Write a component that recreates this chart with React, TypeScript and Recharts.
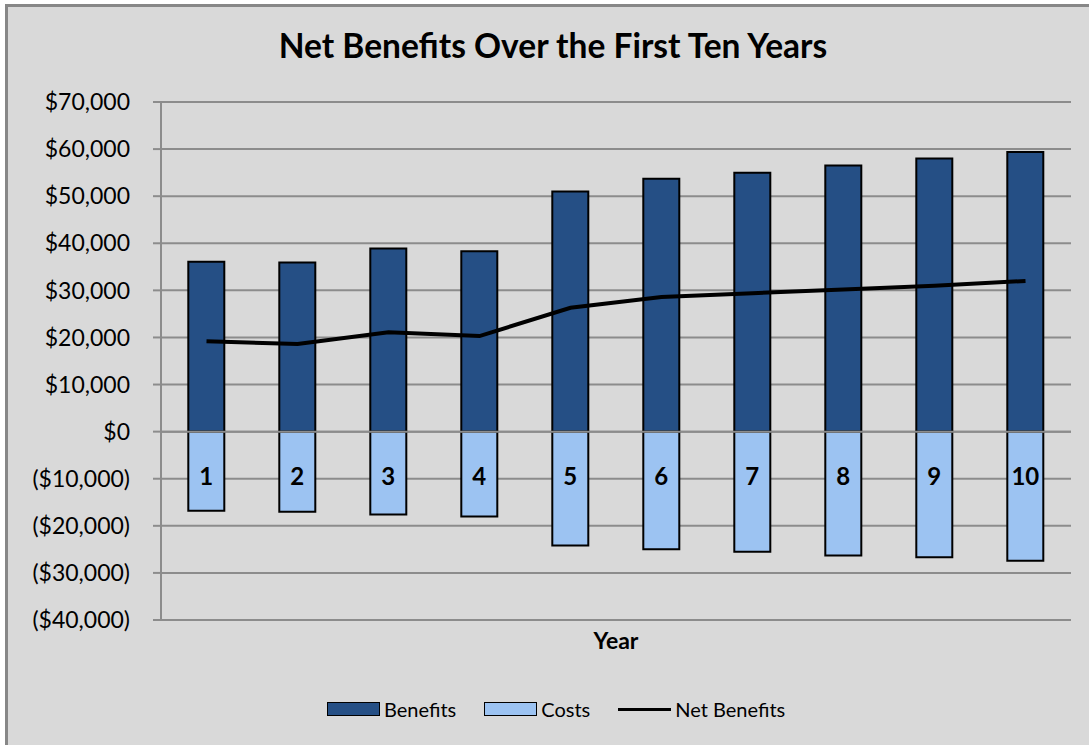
import { ComposedChart, Bar, Line, XAxis, YAxis, CartesianGrid, ReferenceLine, LabelList } from 'recharts';

// values
const years = ['1', '2', '3', '4', '5', '6', '7', '8', '9', '10'];
const benefits = [36100, 35900, 38900, 38300, 51000, 53700, 55000, 56500, 58000, 59400];
const costs = [-16800, -17000, -17600, -18000, -24200, -25000, -25500, -26300, -26700, -27400];
const netBenefits = [19200, 18600, 21100, 20300, 26300, 28600, 29400, 30200, 31000, 32000];
const yTicks = [-40000, -30000, -20000, -10000, 0, 10000, 20000, 30000, 40000, 50000, 60000, 70000];

const data = years.map((year, i) => ({
  year,
  benefits: benefits[i],
  costs: costs[i],
  net: netBenefits[i],
}));

const FONT = 'Lato, "Noto Sans", sans-serif';
const DARK = '#254f85';
const LIGHT = '#9cc3f2';

const money = (v: number) => {
  const s = '$' + Math.abs(v).toLocaleString('en-US');
  return v < 0 ? `(${s})` : s;
};

// Excel puts the category labels just under the zero line
function YearLabel(props: any) {
  const { x, y, width, height, value } = props;
  const top = Math.min(y, y + height);
  return (
    <text
      x={x + width / 2}
      y={top + 47}
      textAnchor="middle"
      dominantBaseline="middle"
      fontFamily={FONT}
      fontWeight={700}
      fontSize={24}
      fill="#000"
    >
      {value}
    </text>
  );
}

function LegendItem({ label, kind }: { label: string; kind: 'dark' | 'light' | 'line' }) {
  return (
    <div style={{ display: 'flex', alignItems: 'center', marginRight: 28 }}>
      {kind === 'line' ? (
        <div style={{ width: 53, height: 3, background: '#000', marginRight: 4 }} />
      ) : (
        <div
          style={{
            width: 51,
            height: 12,
            background: kind === 'dark' ? DARK : LIGHT,
            border: '1.5px solid #000',
            marginRight: 4,
          }}
        />
      )}
      <span>{label}</span>
    </div>
  );
}

export default function App() {
  return (
    <div style={{ position: 'absolute', left: 0, top: 0, width: 1089, height: 745, overflow: 'hidden', background: '#fff' }}>
      <div
        style={{
          position: 'absolute',
          left: 5,
          top: 4,
          width: 1100,
          height: 760,
          border: '3px solid #878787',
          background: '#d9d9d9',
        }}
      />
      <div
        style={{
          position: 'absolute',
          left: 0,
          top: 25,
          width: 1106,
          textAlign: 'center',
          fontFamily: FONT,
          fontWeight: 700,
          fontSize: 33.5,
          color: '#000',
        }}
      >
        Net Benefits Over the First Ten Years
      </div>
      <div style={{ position: 'absolute', left: 0, top: 0 }}>
        <ComposedChart
          width={1089}
          height={745}
          data={data}
          stackOffset="sign"
          barCategoryGap="30%"
          margin={{ top: 102, right: 18, bottom: 125, left: 0 }}
        >
          <CartesianGrid vertical={false} stroke="#8c8c8c" strokeWidth={2} />
          <XAxis dataKey="year" hide />
          <YAxis
            width={161}
            domain={[-40000, 70000]}
            ticks={yTicks}
            interval={0}
            tickFormatter={money}
            tickSize={8}
            tickMargin={23}
            axisLine={{ stroke: '#8c8c8c', strokeWidth: 2 }}
            tickLine={{ stroke: '#8c8c8c', strokeWidth: 2 }}
            tick={{ fill: '#000', fontFamily: FONT, fontSize: 23 }}
          />
          <ReferenceLine y={0} stroke="#8c8c8c" strokeWidth={2} />
          <Bar dataKey="benefits" name="Benefits" stackId="a" fill={DARK} stroke="#000" strokeWidth={2} isAnimationActive={false} />
          <Bar dataKey="costs" name="Costs" stackId="a" fill={LIGHT} stroke="#000" strokeWidth={2} isAnimationActive={false}>
            <LabelList dataKey="year" content={YearLabel} />
          </Bar>
          <Line
            type="linear"
            dataKey="net"
            name="Net Benefits"
            stroke="#000"
            strokeWidth={4}
            dot={false}
            activeDot={false}
            isAnimationActive={false}
          />
        </ComposedChart>
      </div>
      <div
        style={{
          position: 'absolute',
          left: 0,
          top: 626,
          width: 1232,
          textAlign: 'center',
          fontFamily: FONT,
          fontWeight: 700,
          fontSize: 23,
          color: '#000',
        }}
      >
        Year
      </div>
      <div
        style={{
          position: 'absolute',
          left: 327,
          top: 697,
          display: 'flex',
          fontFamily: FONT,
          fontSize: 20,
          color: '#000',
        }}
      >
        <LegendItem label="Benefits" kind="dark" />
        <LegendItem label="Costs" kind="light" />
        <LegendItem label="Net Benefits" kind="line" />
      </div>
    </div>
  );
}
